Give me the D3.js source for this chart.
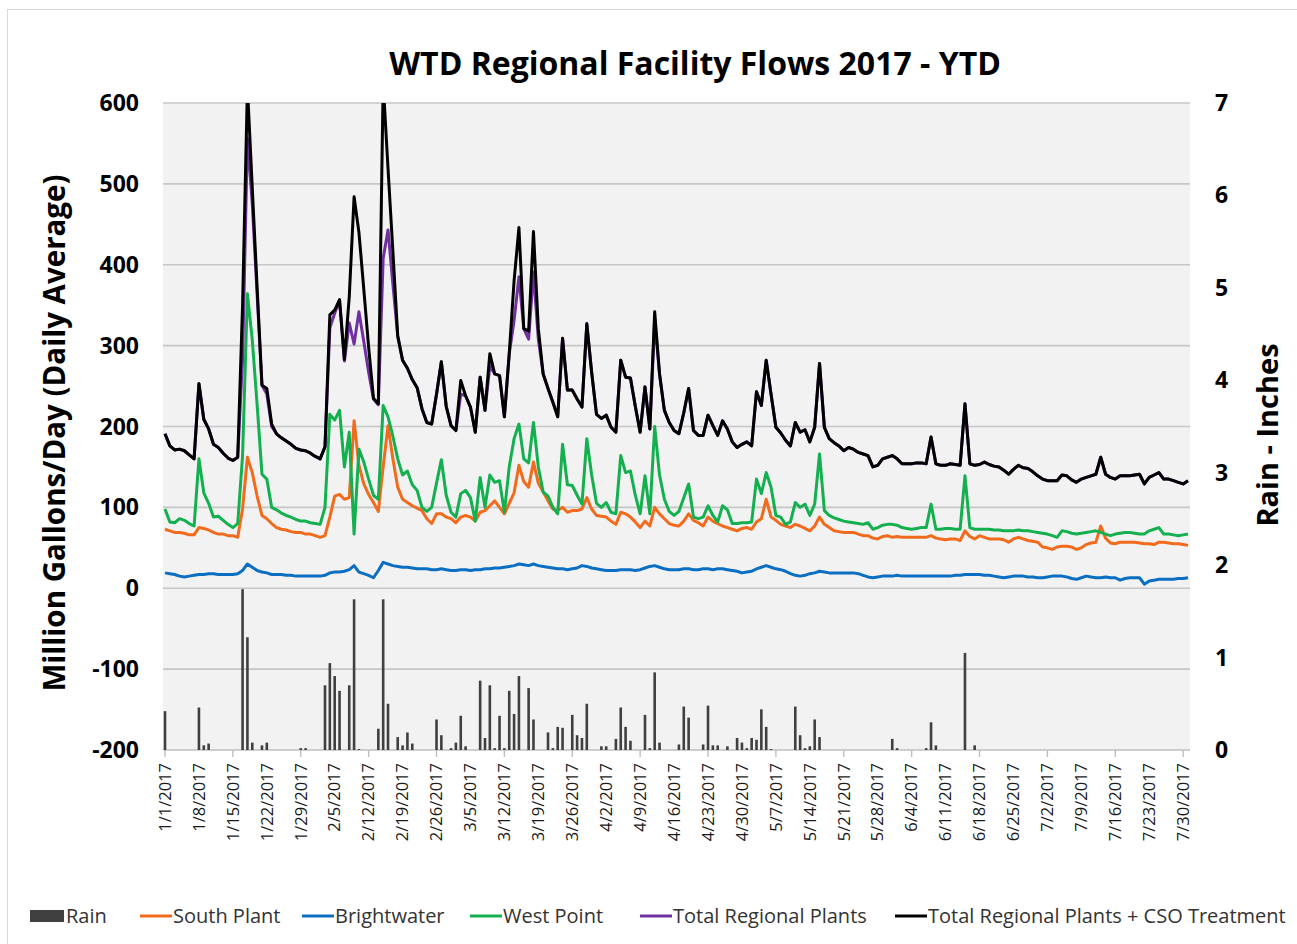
<!DOCTYPE html>
<html>
<head>
<meta charset="utf-8">
<script src="https://cdn.jsdelivr.net/npm/d3@7"></script>
<style>
  body { margin: 0; background: #fff; }
  svg text { font-family: "Open Sans", Lato, sans-serif; }
</style>
</head>
<body>
<div id="chart"></div>
<script>
// daily values, 1/1/2017 .. 7/31/2017 (one row = one week)
const rain = [
  0.42, 0, 0, 0, 0, 0, 0,
  0.46, 0.05, 0.07, 0, 0, 0, 0,
  0, 0, 1.74, 1.22, 0.08, 0, 0.05,
  0.08, 0, 0, 0, 0, 0, 0,
  0.02, 0.02, 0, 0, 0, 0.70, 0.94,
  0.80, 0.64, 0, 0.70, 1.63, 0.01, 0,
  0, 0, 0.23, 1.63, 0.50, 0, 0.14,
  0.05, 0.19, 0.07, 0, 0, 0, 0,
  0.33, 0.16, 0, 0.02, 0.08, 0.37, 0.04,
  0, 0, 0.75, 0.13, 0.70, 0.02, 0.37,
  0.02, 0.64, 0.39, 0.80, 0, 0.67, 0.33,
  0, 0, 0.19, 0.02, 0.25, 0.24, 0,
  0.38, 0.16, 0.13, 0.50, 0, 0, 0.04,
  0.04, 0, 0.12, 0.46, 0.25, 0.10, 0,
  0, 0.38, 0.02, 0.84, 0.08, 0, 0,
  0, 0.06, 0.47, 0.35, 0, 0, 0.06,
  0.48, 0.05, 0.05, 0, 0.04, 0, 0.13,
  0.08, 0.02, 0.13, 0.11, 0.44, 0.25, 0.01,
  0, 0, 0, 0, 0.47, 0.16, 0.02,
  0.04, 0.33, 0.14, 0, 0, 0, 0,
  0, 0, 0, 0, 0, 0, 0,
  0, 0, 0, 0.12, 0.02, 0, 0,
  0, 0, 0, 0.02, 0.30, 0.05, 0,
  0, 0, 0, 0, 1.05, 0, 0.05,
  0, 0, 0, 0, 0, 0, 0,
  0, 0, 0, 0, 0, 0, 0,
  0, 0, 0, 0, 0, 0, 0,
  0, 0, 0, 0, 0, 0, 0,
  0, 0, 0, 0, 0, 0, 0,
  0, 0, 0, 0, 0, 0, 0,
  0, 0
];

const southPlant = [
  73, 71, 69, 69, 68, 66, 66,
  75, 74, 72, 69, 67, 67, 65,
  65, 63, 98, 162, 143, 114, 90,
  86, 80, 75, 73, 72, 70, 69,
  69, 67, 67, 65, 63, 65, 88,
  114, 116, 110, 112, 207, 152, 129,
  116, 106, 95, 150, 201, 160, 125,
  110, 106, 102, 99, 96, 86, 80,
  92, 92, 88, 86, 81, 88, 90,
  88, 83, 94, 96, 102, 108, 100,
  92, 105, 118, 152, 132, 125, 156,
  130, 119, 108, 98, 96, 100, 94,
  96, 96, 98, 112, 98, 90, 89,
  88, 83, 79, 94, 92, 88, 82,
  75, 83, 77, 100, 92, 86, 80,
  78, 77, 83, 92, 84, 81, 77,
  88, 83, 80, 77, 75, 73, 71,
  74, 75, 73, 82, 86, 110, 88,
  84, 79, 77, 75, 79, 77, 74,
  71, 77, 88, 79, 75, 71, 70,
  69, 69, 69, 67, 65, 65, 62,
  61, 64, 65, 63, 64, 63, 63,
  63, 63, 63, 63, 65, 62, 61,
  60, 61, 61, 59, 71, 64, 61,
  65, 63, 61, 61, 61, 60, 57,
  61, 63, 61, 59, 58, 57, 51,
  50, 48, 51, 52, 52, 51, 48,
  50, 54, 56, 57, 77, 62, 56,
  55, 57, 57, 57, 57, 56, 55,
  55, 54, 57, 57, 56, 55, 55,
  54, 53
];

const brightwater = [
  19, 18, 17, 15, 14, 15, 16,
  17, 17, 18, 18, 17, 17, 17,
  17, 18, 22, 30, 26, 22, 20,
  19, 17, 17, 17, 16, 16, 15,
  15, 15, 15, 15, 15, 16, 19,
  20, 20, 21, 23, 28, 20, 18,
  16, 13, 22, 32, 30, 28, 27,
  26, 26, 25, 24, 24, 24, 23,
  23, 24, 23, 22, 22, 23, 23,
  22, 23, 23, 24, 24, 25, 25,
  26, 27, 28, 30, 29, 28, 30,
  28, 27, 26, 25, 24, 24, 23,
  24, 25, 28, 27, 25, 24, 23,
  22, 22, 22, 23, 23, 23, 22,
  23, 25, 27, 28, 26, 24, 23,
  23, 23, 24, 24, 23, 23, 24,
  24, 23, 24, 24, 23, 22, 21,
  19, 20, 21, 24, 26, 28, 26,
  24, 23, 21, 18, 16, 15, 16,
  18, 19, 21, 20, 19, 19, 19,
  19, 19, 19, 18, 16, 14, 13,
  14, 15, 15, 15, 16, 15, 15,
  15, 15, 15, 15, 15, 15, 15,
  15, 15, 16, 16, 17, 17, 17,
  17, 16, 16, 15, 14, 13, 14,
  15, 15, 15, 14, 14, 13, 13,
  14, 15, 15, 15, 14, 12, 11,
  13, 15, 14, 13, 13, 14, 13,
  13, 10, 12, 13, 13, 13, 5,
  9, 10, 11, 11, 11, 11, 12,
  12, 13
];

const westPoint = [
  98, 82, 81, 86, 84, 80, 77,
  160, 118, 105, 88, 89, 84, 79,
  75, 80, 164, 364, 307, 227, 141,
  135, 100, 97, 93, 90, 88, 85,
  83, 83, 81, 80, 79, 100, 215,
  208, 220, 150, 193, 67, 172, 156,
  135, 115, 110, 226, 212, 188, 160,
  140, 145, 128, 121, 100, 95, 100,
  130, 159, 115, 94, 88, 117, 121,
  112, 83, 137, 100, 140, 131, 133,
  94, 150, 185, 203, 160, 155, 205,
  150, 119, 114, 100, 92, 178, 128,
  127, 115, 104, 185, 140, 105, 100,
  106, 94, 92, 164, 143, 145, 115,
  92, 139, 92, 200, 140, 110, 95,
  90, 95, 112, 129, 88, 86, 88,
  102, 90, 82, 102, 97, 80, 80,
  81, 81, 82, 135, 117, 143, 125,
  90, 88, 79, 82, 106, 100, 104,
  90, 104, 166, 96, 90, 87, 85,
  83, 82, 81, 80, 79, 81, 73,
  75, 78, 79, 79, 78, 75, 74,
  73, 74, 75, 75, 104, 73, 73,
  74, 74, 73, 73, 139, 75, 73,
  73, 73, 73, 72, 72, 71, 71,
  71, 72, 71, 71, 70, 69, 68,
  67, 65, 63, 71, 70, 68, 67,
  68, 69, 70, 71, 69, 67, 65,
  67, 68, 69, 69, 68, 67, 67,
  71, 73, 75, 67, 67, 66, 65,
  66, 67
];

const totalPlants = [
  191, 176, 171, 172, 170, 165, 160,
  253, 209, 197, 178, 174, 167, 161,
  158, 162, 284, 556, 476, 363, 251,
  240, 200, 191, 186, 182, 178, 173,
  171, 170, 167, 163, 160, 175, 322,
  340, 356, 281, 328, 302, 342, 305,
  267, 234, 227, 408, 443, 376, 312,
  282, 272, 258, 248, 222, 205, 203,
  240, 280, 225, 201, 195, 240, 238,
  224, 193, 261, 220, 275, 265, 263,
  212, 290, 331, 385, 321, 308, 391,
  308, 265, 247, 230, 212, 309, 245,
  245, 234, 224, 327, 267, 215, 210,
  214, 199, 193, 282, 261, 260, 225,
  193, 249, 197, 330, 265, 220, 205,
  195, 191, 217, 247, 195, 189, 189,
  214, 201, 189, 207, 197, 181, 174,
  178, 181, 176, 243, 226, 282, 240,
  199, 192, 183, 176, 205, 193, 196,
  181, 199, 278, 199, 185, 180, 176,
  170, 174, 172, 168, 166, 164, 150,
  152, 160, 162, 164, 160, 154, 154,
  154, 155, 155, 154, 187, 154, 152,
  152, 154, 153, 152, 228, 154, 152,
  153, 156, 153, 151, 150, 146, 141,
  147, 152, 149, 148, 144, 139, 135,
  133, 133, 133, 140, 139, 134, 131,
  135, 137, 139, 141, 162, 141, 137,
  135, 139, 139, 139, 140, 141, 129,
  137, 140, 143, 135, 135, 133, 131,
  129, 133
];

const totalWithCSO = [
  191, 176, 171, 172, 170, 165, 160,
  253, 209, 197, 178, 174, 167, 161,
  158, 162, 350, 620, 495, 372, 251,
  247, 203, 191, 186, 182, 178, 173,
  171, 170, 167, 163, 160, 175, 338,
  344, 357, 283, 360, 484, 440, 370,
  298, 235, 228, 625, 519, 417, 312,
  282, 272, 258, 248, 222, 205, 203,
  240, 280, 225, 201, 195, 257, 238,
  224, 193, 261, 220, 290, 265, 263,
  212, 290, 380, 446, 321, 318, 441,
  321, 265, 247, 230, 212, 309, 245,
  245, 234, 224, 327, 267, 215, 210,
  214, 199, 193, 282, 261, 260, 225,
  193, 249, 197, 342, 265, 220, 205,
  195, 191, 217, 247, 195, 189, 189,
  214, 201, 189, 207, 197, 181, 174,
  178, 181, 176, 243, 226, 282, 240,
  199, 192, 183, 176, 205, 193, 196,
  181, 199, 278, 199, 185, 180, 176,
  170, 174, 172, 168, 166, 164, 150,
  152, 160, 162, 164, 160, 154, 154,
  154, 155, 155, 154, 187, 154, 152,
  152, 154, 153, 152, 228, 154, 152,
  153, 156, 153, 151, 150, 146, 141,
  147, 152, 149, 148, 144, 139, 135,
  133, 133, 133, 140, 139, 134, 131,
  135, 137, 139, 141, 162, 141, 137,
  135, 139, 139, 139, 140, 141, 129,
  137, 140, 143, 135, 135, 133, 131,
  129, 133
];

const dateLabels = ["1/1/2017", "1/8/2017", "1/15/2017", "1/22/2017", "1/29/2017",
  "2/5/2017", "2/12/2017", "2/19/2017", "2/26/2017", "3/5/2017", "3/12/2017",
  "3/19/2017", "3/26/2017", "4/2/2017", "4/9/2017", "4/16/2017", "4/23/2017",
  "4/30/2017", "5/7/2017", "5/14/2017", "5/21/2017", "5/28/2017", "6/4/2017",
  "6/11/2017", "6/18/2017", "6/25/2017", "7/2/2017", "7/9/2017", "7/16/2017",
  "7/23/2017", "7/30/2017"];
const flowTicks = [-200, -100, 0, 100, 200, 300, 400, 500, 600];
const rainTicks = [0, 1, 2, 3, 4, 5, 6, 7];

const series = [
  { name: "South Plant", values: southPlant, color: "#f26b1d" },
  { name: "Brightwater", values: brightwater, color: "#0a6fc2" },
  { name: "West Point", values: westPoint, color: "#14b050" },
  { name: "Total Regional Plants", values: totalPlants, color: "#7030a0" },
  { name: "Total Regional Plants + CSO Treatment", values: totalWithCSO, color: "#000000" }
];

const width = 1297, height = 944;
const plot = { left: 163, right: 1190, top: 103, bottom: 750 };

const parseDate = d3.utcParse("%m/%d/%Y");
const days = d3.utcDay.range(Date.UTC(2017, 0, 1), Date.UTC(2017, 7, 1));

const svg = d3.select("#chart")
  .append("svg")
  .attr("width", width)
  .attr("height", height);

// outer chart border
svg.append("rect")
  .attr("x", 7.5).attr("y", 9.5)
  .attr("width", width).attr("height", height)
  .attr("fill", "#fff").attr("stroke", "#d9d9d9");

const x = d3.scaleUtc()
  .domain([days[0], days[days.length - 1]])
  .range([165, 1188]);

const y = d3.scaleLinear()
  .domain([-200, 600])
  .range([plot.bottom, plot.top]);

const yRain = d3.scaleLinear()
  .domain([0, 7])
  .range([plot.bottom, plot.top]);

svg.append("rect")
  .attr("x", plot.left).attr("y", plot.top)
  .attr("width", plot.right - plot.left).attr("height", plot.bottom - plot.top)
  .attr("fill", "#f2f2f2");

// gridlines
svg.append("g")
  .selectAll("line")
  .data(flowTicks.filter(t => t > -200))
  .join("line")
  .attr("x1", plot.left).attr("x2", plot.right)
  .attr("y1", d => y(d)).attr("y2", d => y(d))
  .attr("stroke", "#c6c6c6")
  .attr("stroke-width", 1.6);

// bottom axis line + tick marks every two weeks
svg.append("line")
  .attr("x1", plot.left).attr("x2", plot.right)
  .attr("y1", plot.bottom).attr("y2", plot.bottom)
  .attr("stroke", "#bfbfbf").attr("stroke-width", 1.6);

svg.append("g")
  .selectAll("line")
  .data(dateLabels.filter((d, i) => i % 2 === 0))
  .join("line")
  .attr("x1", d => x(parseDate(d))).attr("x2", d => x(parseDate(d)))
  .attr("y1", plot.bottom).attr("y2", plot.bottom + 7)
  .attr("stroke", "#bfbfbf").attr("stroke-width", 1.4);

// rain columns
svg.append("g")
  .attr("fill", "#404040")
  .selectAll("rect")
  .data(days.map((d, i) => ({ date: d, v: rain[i] })).filter(d => d.v > 0))
  .join("rect")
  .attr("x", d => x(d.date) - 1.3)
  .attr("width", 2.6)
  .attr("y", d => yRain(d.v))
  .attr("height", d => yRain(0) - yRain(d.v));

svg.append("clipPath").attr("id", "plotClip")
  .append("rect")
  .attr("x", plot.left).attr("y", plot.top)
  .attr("width", plot.right - plot.left).attr("height", plot.bottom - plot.top);

const line = d3.line()
  .x((d, i) => x(days[i]))
  .y(d => y(d));

svg.append("g")
  .attr("clip-path", "url(#plotClip)")
  .selectAll("path")
  .data(series)
  .join("path")
  .attr("d", d => line(d.values))
  .attr("fill", "none")
  .attr("stroke", d => d.color)
  .attr("stroke-width", 3)
  .attr("stroke-linejoin", "round");

// left axis labels
svg.append("g")
  .selectAll("text")
  .data(flowTicks)
  .join("text")
  .attr("x", 139)
  .attr("y", d => y(d))
  .attr("dy", "0.35em")
  .attr("text-anchor", "end")
  .attr("font-size", 23)
  .attr("font-weight", "bold")
  .attr("fill", "#000")
  .text(d => d);

// right axis labels
svg.append("g")
  .selectAll("text")
  .data(rainTicks)
  .join("text")
  .attr("x", 1215)
  .attr("y", d => yRain(d))
  .attr("dy", "0.35em")
  .attr("font-size", 23)
  .attr("font-weight", "bold")
  .attr("fill", "#000")
  .text(d => d);

// date labels
svg.append("g")
  .selectAll("text")
  .data(dateLabels)
  .join("text")
  .attr("transform", d => `translate(${x(parseDate(d))},${plot.bottom + 13}) rotate(-90)`)
  .attr("dy", "0.35em")
  .attr("text-anchor", "end")
  .attr("font-size", 16.5)
  .attr("fill", "#1a1a1a")
  .text(d => d);

// titles
svg.append("text")
  .attr("x", 695).attr("y", 75)
  .attr("text-anchor", "middle")
  .attr("font-size", 32)
  .attr("font-weight", "bold")
  .attr("fill", "#000")
  .text("WTD Regional Facility Flows 2017 - YTD");

svg.append("text")
  .attr("transform", "translate(55,433) rotate(-90)")
  .attr("dy", "0.35em")
  .attr("text-anchor", "middle")
  .attr("font-size", 29.5)
  .attr("font-weight", "bold")
  .attr("fill", "#000")
  .text("Million Gallons/Day (Daily Average)");

svg.append("text")
  .attr("transform", "translate(1268,435) rotate(-90)")
  .attr("dy", "0.35em")
  .attr("text-anchor", "middle")
  .attr("font-size", 29)
  .attr("font-weight", "bold")
  .attr("fill", "#000")
  .text("Rain - Inches");

// legend
const legendY = 916;
const legend = svg.append("g").attr("font-size", 20).attr("fill", "#333");
legend.append("rect")
  .attr("x", 30).attr("y", legendY - 6).attr("width", 34).attr("height", 12)
  .attr("fill", "#404040");
legend.append("text").attr("x", 66).attr("y", legendY).attr("dy", "0.35em").text("Rain");

const legendX = [140, 302, 470, 640, 895];
series.forEach((s, i) => {
  legend.append("line")
    .attr("x1", legendX[i]).attr("x2", legendX[i] + 32)
    .attr("y1", legendY).attr("y2", legendY)
    .attr("stroke", s.color).attr("stroke-width", 3);
  legend.append("text")
    .attr("x", legendX[i] + 33).attr("y", legendY).attr("dy", "0.35em")
    .text(s.name);
});
</script>
</body>
</html>
